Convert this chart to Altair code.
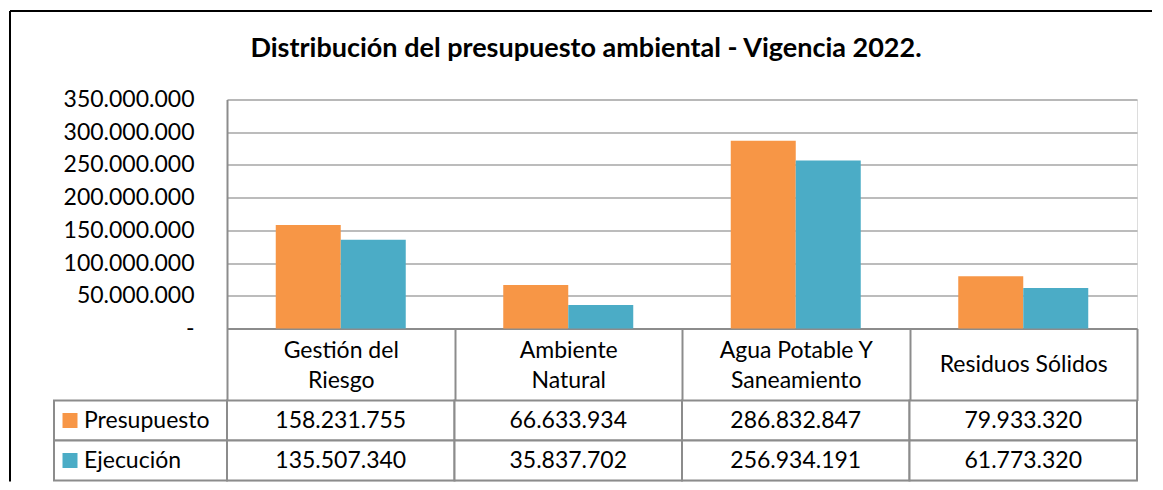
import altair as alt
import pandas as pd

# ---- data ----
categories = ["Gestión del Riesgo", "Ambiente Natural", "Agua Potable Y Saneamiento", "Residuos Sólidos"]
header_lines = [["Gestión del", "Riesgo"], ["Ambiente", "Natural"], ["Agua Potable Y", "Saneamiento"], ["Residuos Sólidos"]]
series = ["Presupuesto", "Ejecución"]
presupuesto = [158231755, 66633934, 286832847, 79933320]
ejecucion = [135507340, 35837702, 256934191, 61773320]
y_ticks = [0, 50000000, 100000000, 150000000, 200000000, 250000000, 300000000, 350000000]
colors = ["#F79646", "#4BACC6"]
title_text = ["Distribución del presupuesto ambiental - Vigencia 2022."]

rows = []
for s, vals in zip(series, [presupuesto, ejecucion]):
    for c, v in zip(categories, vals):
        rows.append({"category": c, "serie": s, "value": v})
df = pd.DataFrame(rows)
series_df = pd.DataFrame({"serie": series})
title_df = pd.DataFrame({"t": title_text})

FONT = "Lato"
FS = 23
GRID = "#a6a6a6"
BORDER = "#8c8c8c"
W, H = 910, 229
HEADER_H = 72
TABLE_H = 80

# multi-line header label expression
expr = "datum.label"
for c, lines in reversed(list(zip(categories, header_lines))):
    arr = "[" + ",".join("'" + l + "'" for l in lines) + "]"
    expr = f"datum.label == '{c}' ? {arr} : ({expr})"
single = [c for c, lines in zip(categories, header_lines) if len(lines) == 1]
single_test = " || ".join(f"datum.value == '{c}'" for c in single)

color_scale = alt.Scale(domain=series, range=colors)

base = alt.Chart(df)

bars = base.mark_bar().encode(
    x=alt.X(
        "category:N",
        sort=categories,
        scale=alt.Scale(paddingInner=0, paddingOuter=0),
        axis=alt.Axis(
            title=None,
            labelExpr=expr,
            labelAngle=0,
            labelFont=FONT,
            labelFontSize=FS,
            labelColor="black",
            labelBaseline="middle",
            labelLineHeight=30,
            labelPadding={"condition": {"test": single_test, "value": 36 - HEADER_H}, "value": 22 - HEADER_H},
            labelLimit=400,
            labelOverlap=False,
            domainColor=BORDER,
            domainWidth=2,
            ticks=True,
            tickBand="extent",
            tickSize=HEADER_H,
            tickColor=BORDER,
            tickWidth=2,
            grid=False,
        ),
    ),
    xOffset=alt.XOffset("serie:N", sort=series, scale=alt.Scale(paddingInner=0, paddingOuter=0.75)),
    y=alt.Y(
        "value:Q",
        scale=alt.Scale(domain=[0, 350000000], nice=False),
        axis=alt.Axis(
            title=None,
            values=y_ticks,
            labelExpr="datum.value == 0 ? '-' : format(datum.value, ',.0f')",
            labelFont=FONT,
            labelFontSize=FS,
            labelColor="black",
            labelPadding=33,
            ticks=False,
            domainColor=BORDER,
            domainWidth=2,
            gridColor=GRID,
            gridWidth=1.5,
        ),
    ),
    color=alt.Color("serie:N", scale=color_scale, legend=None),
)

frame_df = pd.DataFrame({"k": [0]})
frame_left = alt.Chart(frame_df).mark_rule(color="black", strokeWidth=2).encode(
    x=alt.value(-217), y=alt.value(-88.5), y2=alt.value(H + HEADER_H + TABLE_H + 1)
)
frame_top = alt.Chart(frame_df).mark_rule(color="black", strokeWidth=2).encode(
    x=alt.value(-217), x2=alt.value(925), y=alt.value(-88.5)
)
title = alt.Chart(title_df).mark_text(
    font=FONT, fontSize=27, fontWeight="bold", color="black", align="center", baseline="alphabetic"
).encode(text="t:N", x=alt.value(359), y=alt.value(-43))

top = alt.layer(frame_left, frame_top, title, bars).properties(width=W, height=H)

# ---- data table ----
tx = alt.X("category:N", sort=categories, scale=alt.Scale(paddingInner=0, paddingOuter=0), axis=None)
ty = alt.Y("serie:N", sort=series, scale=alt.Scale(paddingInner=0, paddingOuter=0), axis=None)

cells = base.mark_rect(fill="white", stroke=BORDER, strokeWidth=2).encode(x=tx, y=ty)
values = base.mark_text(font=FONT, fontSize=FS, color="black").encode(
    x=tx, y=ty, text=alt.Text("value:Q", format=",.0f")
)
head_cells = alt.Chart(series_df).mark_rect(fill="white", stroke=BORDER, strokeWidth=2).encode(
    x=alt.value(-173), x2=alt.value(0), y=ty
)
swatches = alt.Chart(series_df).mark_square(size=225, opacity=1, filled=True).encode(
    x=alt.value(-157), y=ty, color=alt.Color("serie:N", scale=color_scale, legend=None)
)
names = alt.Chart(series_df).mark_text(font=FONT, fontSize=FS, color="black", align="left").encode(
    x=alt.value(-143), y=ty, text="serie:N"
)

bottom = alt.layer(cells, values, head_cells, swatches, names).properties(width=W, height=TABLE_H)

chart = (
    alt.vconcat(top, bottom, spacing=HEADER_H, bounds="flush")
    .properties(padding={"left": 0, "top": 1.5, "right": 0, "bottom": 0})
    .configure_view(stroke=None)
    .configure(locale={"number": {"decimal": ",", "thousands": ".", "grouping": [3], "currency": ["$", ""]}})
)

chart.save("out.html", embed_options={"renderer": "svg", "actions": False})
